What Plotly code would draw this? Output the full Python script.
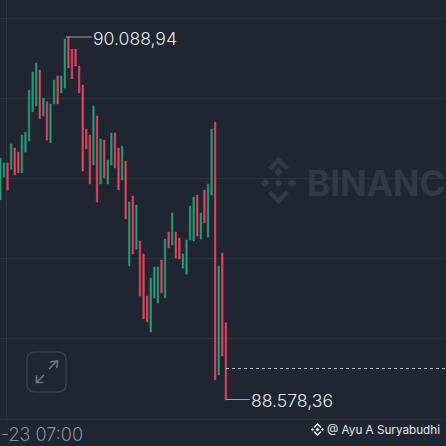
import plotly.graph_objects as go

# Candle extents (prices)
highs = [89585,89565,89565,89644,89627,89610,89681,89693,89868,89943,89981,89952,89835,89819,89810,89910,
         89927,89927,90081,90089,90039,90039,89968,89889,89706,89681,89802,89760,89664,89660,89577,89689,
         89689,89627,89635,89573,89402,89427,89390,89240,89186,89011,89086,89132,89132,89161,89248,89277,
         89356,89277,89252,89186,89244,89385,89423,89431,89356,89452,89477,89706,89735,89136,89190,88900]
lows = [89411,89506,89452,89539,89515,89523,89523,89610,89656,89777,89802,89748,89760,89660,89648,89810,
        89810,89856,89877,89960,89914,89968,89856,89531,89623,89477,89556,89402,89477,89502,89477,89556,
        89544,89452,89494,89332,89136,89186,89206,89011,88915,88903,88861,89003,88982,89024,89003,89211,
        89223,89169,89165,89127,89102,89244,89240,89261,89248,89315,89256,89431,88662,88682,88761,88578]
is_up = [1,1,0,1,0,0,1,1,1,1,1,0,1,0,1,1,
         0,1,1,0,0,0,0,0,0,0,1,0,1,0,1,1,
         0,0,1,0,1,0,1,0,0,0,1,1,1,0,1,0,
         1,0,0,1,1,1,1,0,1,0,1,1,0,1,0,0]
grid_prices = [90168, 89835, 89502, 89169, 88836]
grid_index = [1.6]
high_label = "90.088,94"
low_label = "88.578,36"
last_price = 88711
time_label = "-23 07:00"
watermark = "BINANCE"
credit = "@ Ayu A Suryabudhi"

idx = list(range(len(highs)))
opens = [l if u else h for h, l, u in zip(highs, lows, is_up)]
closes = [h if u else l for h, l, u in zip(highs, lows, is_up)]

W = H = 446
PH = 419
BG = "#1f2631"
GREEN = "#2a9d79"
RED = "#e8455e"
def fx(p): return p / W
def fy(p): return (PH - p) / PH

fig = go.Figure(go.Candlestick(
    x=idx, open=opens, high=highs, low=lows, close=closes,
    increasing=dict(line=dict(color=GREEN, width=0.5), fillcolor=GREEN),
    decreasing=dict(line=dict(color=RED, width=0.5), fillcolor=RED),
    whiskerwidth=0, hoverinfo="skip",
))

def seg(x0, y0, x1, y1, color, width=1, dash="solid"):
    return dict(type="line", xref="paper", yref="paper", x0=fx(x0), y0=fy(y0), x1=fx(x1), y1=fy(y1),
                line=dict(color=color, width=width, dash=dash), layer="above")

def path(d_pts, color=None, fill=None, width=1.5, close=False):
    d = "M" + " L".join(f"{fx(a):.5f},{fy(b):.5f}" for a, b in d_pts) + (" Z" if close else "")
    return dict(type="path", xref="paper", yref="paper", path=d, fillcolor=fill or "rgba(0,0,0,0)",
                line=dict(color=color or "rgba(0,0,0,0)", width=width), layer="above")

def diamond(cx, cy, r, color):
    return path([(cx, cy - r), (cx + r, cy), (cx, cy + r), (cx - r, cy)], fill=color, width=0, close=True)

def chevron(cx, cy, r, t, up, color):
    s = -1 if up else 1
    return path([(cx - r, cy), (cx, cy + s * r), (cx + r, cy)], color=color, width=t)

shapes = [
    seg(66, 37, 92, 37, "#9aa0a8", 1),
    seg(226, 399.5, 250, 399.5, "#9aa0a8", 1),
    seg(226, 368.5, 446, 368.5, "#b7bcc4", 1, "3px,3px"),
]

# expand button
r, x0, y0, x1, y1 = 8, 27, 352, 66, 392
def pp(a, b): return f"{fx(a):.5f},{fy(b):.5f}"
shapes.append(dict(type="path", xref="paper", yref="paper", layer="above", fillcolor="rgba(0,0,0,0)",
    line=dict(color="#373e4a", width=1.5),
    path=f"M{pp(x0+r,y0)} L{pp(x1-r,y0)} Q{pp(x1,y0)} {pp(x1,y0+r)} L{pp(x1,y1-r)} Q{pp(x1,y1)} {pp(x1-r,y1)} "
         f"L{pp(x0+r,y1)} Q{pp(x0,y1)} {pp(x0,y1-r)} L{pp(x0,y0+r)} Q{pp(x0,y0)} {pp(x0+r,y0)} Z"))
AR = "#6f7680"
shapes += [seg(49, 369, 57, 361, AR, 1.6), path([(50, 362), (57.5, 361), (57, 368)], color=AR, width=1.6),
           seg(37, 382, 44, 375, AR, 1.6), path([(36.5, 375.5), (36.5, 382.5), (43.5, 382.5)], color=AR, width=1.6)]

# watermark logo
WM = "#323945"
shapes += [diamond(278.5, 172, 4.5, WM), diamond(265, 183, 4.5, WM), diamond(292, 183, 4.5, WM), diamond(278.5, 183, 4, WM),
           chevron(278.5, 169, 9, 4.5, True, WM), chevron(278.5, 192, 9, 4.5, False, WM)]

# credit logo
LG = "#e8eaed"
shapes += [diamond(317.5, 429.5, 2, LG), diamond(312.5, 429.5, 1.5, LG), diamond(322.5, 429.5, 1.5, LG),
           chevron(317.5, 427.5, 3.5, 1.5, True, LG), chevron(317.5, 431.5, 3.5, 1.5, False, LG)]

FONT = "Inter"
def label(text, x, y, size, color, weight=400, anchor="left"):
    return dict(text=text, xref="paper", yref="paper", x=fx(x), y=fy(y), xanchor=anchor, yanchor="middle",
                showarrow=False, font=dict(family=FONT, size=size, color=color, weight=weight), align="left")

annotations = [
    label(high_label, 91, 38, 17.6, "#e6e8eb", 300),
    label(low_label, 249, 400.5, 17.6, "#e6e8eb", 300),
    label(time_label, -1, 435, 18, "#848c98", 300),
    label(watermark, 305, 183, 35, WM, 700),
    label(credit, 325, 429.5, 11.7, "#e6e8eb"),
]

fig.update_layout(
    width=W, height=H, margin=dict(l=0, r=0, t=0, b=27, pad=0), autosize=False,
    paper_bgcolor=BG, plot_bgcolor=BG, showlegend=False, boxgap=0.38,
    shapes=shapes, annotations=annotations,
    xaxis=dict(range=[-0.11, 124.5], rangeslider=dict(visible=False), tickvals=grid_index, showticklabels=False,
               ticks="", showgrid=True, gridcolor="#2b323d", gridwidth=1, zeroline=False,
               showline=True, linecolor="#2b323d", linewidth=1),
    yaxis=dict(range=[88499, 90243], tickvals=grid_prices, showticklabels=False, ticks="", showgrid=True,
               gridcolor="#2b323d", gridwidth=1, zeroline=False, showline=False),
)
fig.write_html("out.html", config=dict(displayModeBar=False), post_script="document.body.style.margin='0';")
